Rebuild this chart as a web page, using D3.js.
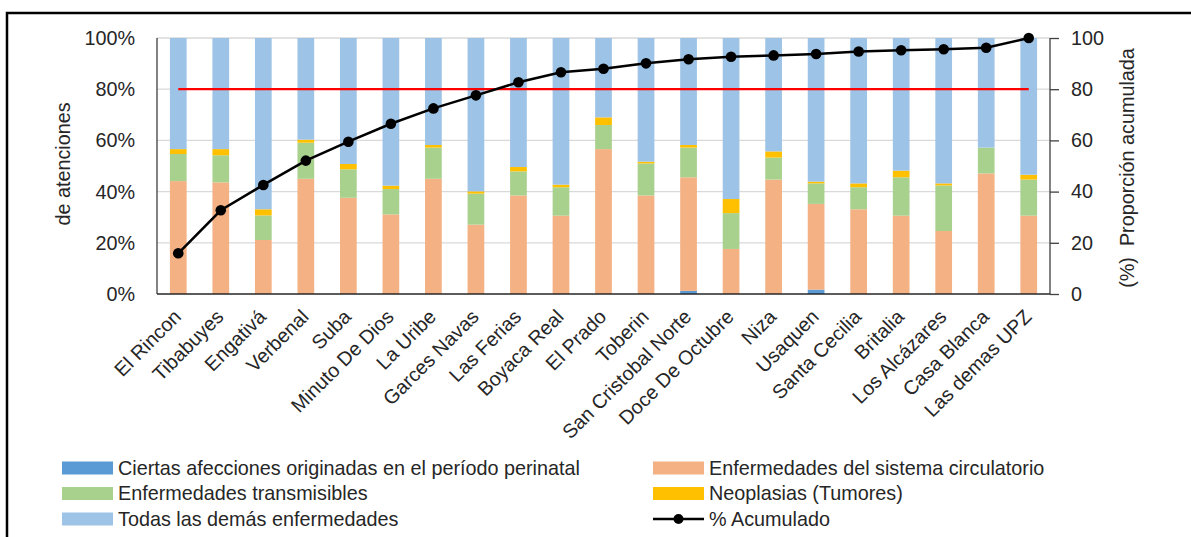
<!DOCTYPE html>
<html><head><meta charset="utf-8">
<script src="https://cdn.jsdelivr.net/npm/d3@7"></script>
<style>
body{margin:0;background:#fff;}
text{font-family:"Liberation Sans",Arial,sans-serif;fill:#262626;}
</style></head>
<body><svg id="c" width="1191" height="537"></svg>
<script>
const categories = ["El Rincon","Tibabuyes","Engativá","Verbenal","Suba","Minuto De Dios","La Uribe","Garces Navas","Las Ferias","Boyaca Real","El Prado","Toberin","San Cristobal Norte","Doce De Octubre","Niza","Usaquen","Santa Cecilia","Britalia","Los Alcázares","Casa Blanca","Las demas UPZ"];
const perinatal     = [0,0,0,0,0,0,0,0,0,0,0,0,1.2,0,0,1.7,0,0,0,0,0];
const circulatorio  = [44.1,43.6,21.1,45.0,37.6,31.1,45.0,27.1,38.5,30.6,56.6,38.5,44.4,17.6,44.7,33.5,33.1,30.6,24.6,47.1,30.6];
const transmisibles = [10.6,10.6,9.6,14.1,11.1,9.9,12.2,12.1,9.4,11.1,9.4,12.5,11.6,14.0,8.6,8.0,8.6,15.0,17.8,10.1,14.1];
const neoplasias    = [1.9,2.4,2.4,1.2,2.1,1.3,1.0,0.9,1.7,1.0,3.0,0.7,1.0,5.5,2.4,0.7,1.5,2.6,0.8,0,1.9];
const demas         = [43.4,43.4,66.9,39.7,49.2,57.7,41.8,59.9,50.4,57.3,31.0,48.3,41.8,62.9,44.3,56.1,56.8,51.8,56.8,42.8,53.4];
const acumulado     = [15.9,32.7,42.6,52.1,59.5,66.5,72.5,77.6,82.7,86.6,88.0,90.1,91.7,92.7,93.2,93.75,94.7,95.2,95.6,96.2,100];
const meta          = [80,80,80,80,80,80,80,80,80,80,80,80,80,80,80,80,80,80,80,80,80];
const leftTicks  = [0,20,40,60,80,100];
const rightTicks = [0,20,40,60,80,100];
const seriesNames = ["Ciertas afecciones originadas en el período perinatal","Enfermedades del sistema circulatorio","Enfermedades transmisibles","Neoplasias (Tumores)","Todas las demás enfermedades"];
const seriesKeys = ["per","cir","tra","neo","dem"];
const colors = ["#5b9bd5","#f4b183","#a9d18e","#ffc000","#9dc3e6"];

const svg = d3.select("#c");
const L=157, R=1050, T=38, B=294;
const FS = 19.8;

// frame
svg.append("path").attr("d","M7,537 L7,13 L1191,13").attr("fill","none").attr("stroke","#000").attr("stroke-width",2.5);

const x = d3.scaleBand().domain(categories).range([L,R]).paddingInner(0.607).paddingOuter(0.3035);
const y = d3.scaleLinear().domain([0,100]).range([B,T]);
const y2 = d3.scaleLinear().domain([0,100]).range([B,T]);

// gridlines
svg.append("g").selectAll("line").data(leftTicks.filter(d=>d>0)).join("line")
  .attr("x1",L).attr("x2",R).attr("y1",d=>y(d)).attr("y2",d=>y(d))
  .attr("stroke","#d9d9d9").attr("stroke-width",1.3);

// stacked bars
const rows = categories.map((c,i)=>({cat:c,per:perinatal[i],cir:circulatorio[i],tra:transmisibles[i],neo:neoplasias[i],dem:demas[i]}));
const stacked = d3.stack().keys(seriesKeys)(rows);
svg.append("g").selectAll("g").data(stacked).join("g").attr("fill",(d,i)=>colors[i])
  .selectAll("rect").data(d=>d).join("rect")
  .attr("x",d=>x(d.data.cat)).attr("width",x.bandwidth())
  .attr("y",d=>y(d[1])).attr("height",d=>Math.max(0,y(d[0])-y(d[1])));

// axes
const ax = svg.append("g");
ax.append("line").attr("x1",L).attr("x2",L).attr("y1",T).attr("y2",B).attr("stroke","#404040").attr("stroke-width",1.3);
ax.append("line").attr("x1",R).attr("x2",R).attr("y1",T).attr("y2",B).attr("stroke","#404040").attr("stroke-width",1.3);
ax.append("line").attr("x1",L).attr("x2",R).attr("y1",B).attr("y2",B).attr("stroke","#262626").attr("stroke-width",1.5);

// left tick labels
svg.append("g").selectAll("text").data(leftTicks).join("text")
  .attr("x",135).attr("y",d=>y(d)).attr("dy","0.35em").attr("text-anchor","end")
  .attr("font-size",FS).text(d=>d+"%");

// right axis
const rAxis = d3.axisRight(y2).tickValues(rightTicks).tickSize(9).tickPadding(12).tickFormat(d=>d);
const rg = svg.append("g").attr("transform",`translate(${R},0)`).call(rAxis);
rg.select(".domain").remove();
rg.selectAll(".tick line").attr("stroke","#404040").attr("stroke-width",1.3);
rg.selectAll(".tick text").attr("font-size",FS).attr("font-family","Liberation Sans, Arial, sans-serif").attr("fill","#262626");

// axis titles
svg.append("text").attr("transform","translate(70,164) rotate(-90)").attr("text-anchor","middle").attr("font-size",FS).text("de atenciones");
svg.append("text").attr("transform","translate(1134,168) rotate(-90)").attr("text-anchor","middle").attr("font-size",FS)
  .attr("xml:space","preserve").text("(%)  Proporción acumulada");

// x labels
svg.append("g").selectAll("text").data(categories).join("text")
  .attr("transform",d=>`translate(${x(d)+x.bandwidth()/2+4},318) rotate(-45)`)
  .attr("text-anchor","end").attr("font-size",FS).text(d=>d);

// red meta line
const cx = d=>x(d)+x.bandwidth()/2;
svg.append("path").datum(meta).attr("fill","none").attr("stroke","#ff0000").attr("stroke-width",2.2)
  .attr("d",d3.line().x((d,i)=>cx(categories[i])).y(d=>y2(d)));

// cumulative line
svg.append("path").datum(acumulado).attr("fill","none").attr("stroke","#000").attr("stroke-width",2.5)
  .attr("d",d3.line().x((d,i)=>cx(categories[i])).y(d=>y2(d)));
svg.append("g").selectAll("circle").data(acumulado).join("circle")
  .attr("cx",(d,i)=>cx(categories[i])).attr("cy",d=>y2(d)).attr("r",5.3).attr("fill","#000");

// legend
const legItems = [
  {name:seriesNames[0],color:colors[0],col:0,row:0},
  {name:seriesNames[1],color:colors[1],col:1,row:0},
  {name:seriesNames[2],color:colors[2],col:0,row:1},
  {name:seriesNames[3],color:colors[3],col:1,row:1},
  {name:seriesNames[4],color:colors[4],col:0,row:2},
  {name:"% Acumulado",color:null,col:1,row:2}
];
const colX=[62,653], rowY=[468,493.5,519];
const lg = svg.append("g");
legItems.forEach(it=>{
  const gx=colX[it.col], gy=rowY[it.row];
  if(it.color){
    lg.append("rect").attr("x",gx).attr("y",gy-6.5).attr("width",51).attr("height",13).attr("fill",it.color);
  } else {
    lg.append("line").attr("x1",gx).attr("x2",gx+51).attr("y1",gy).attr("y2",gy).attr("stroke","#000").attr("stroke-width",2.5);
    lg.append("circle").attr("cx",gx+25.5).attr("cy",gy).attr("r",5).attr("fill","#000");
  }
  lg.append("text").attr("x",gx+56).attr("y",gy).attr("dy","0.35em").attr("font-size",FS).text(it.name);
});
</script></body></html>
